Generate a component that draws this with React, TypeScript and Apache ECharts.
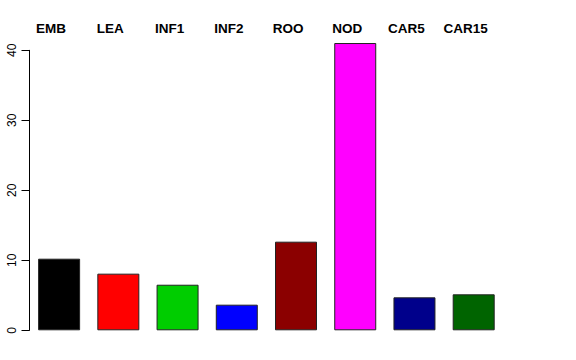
import React, { useEffect, useRef } from "react";
import * as echarts from "echarts";

const categories = ["EMB", "LEA", "INF1", "INF2", "ROO", "NOD", "CAR5", "CAR15"];
const values = [10.23, 8.09, 6.51, 3.66, 12.66, 41.04, 4.71, 5.14];
const colors = ["#000000", "#FF0000", "#00CD00", "#0000FF", "#8B0000", "#FF00FF", "#00008B", "#006400"];
const yTicks = { min: 0, max: 40, interval: 10 };

export default function App() {
  const ref = useRef<HTMLDivElement>(null);
  useEffect(() => {
    if (!ref.current) return;
    const chart = echarts.init(ref.current, null, { renderer: "svg" });
    chart.setOption({
      animation: false,
      backgroundColor: "#ffffff",
      grid: { left: 29.5, right: 72.7, top: 50.3, bottom: 29.7, containLabel: false },
      xAxis: {
        type: "category",
        data: categories,
        position: "top",
        boundaryGap: true,
        axisLine: { show: false },
        axisTick: { show: false },
        splitLine: { show: false },
        axisLabel: {
          interval: 0,
          margin: 15,
          color: "#000",
          fontWeight: "bold",
          fontSize: 13.5,
          fontFamily: "Liberation Sans, Arial, sans-serif",
          padding: [0, 16, 0, 0],
        },
      },
      yAxis: {
        type: "value",
        min: yTicks.min,
        max: yTicks.max,
        interval: yTicks.interval,
        axisLine: { show: true, lineStyle: { color: "#000", width: 1 } },
        axisTick: { show: true, length: 8, lineStyle: { color: "#000", width: 1 } },
        splitLine: { show: false },
        axisLabel: {
          rotate: 90,
          margin: 12,
          color: "#000",
          fontSize: 12,
          fontFamily: "Liberation Sans, Arial, sans-serif",
        },
      },
      series: [
        {
          type: "bar",
          clip: false,
          barWidth: 42,
          data: values.map((v, i) => ({
            value: v,
            itemStyle: { color: colors[i], borderColor: "#222", borderWidth: 1 },
          })),
        },
      ],
    });
    return () => chart.dispose();
  }, []);
  return <div ref={ref} style={{ width: 576, height: 360, position: "absolute", left: 0, top: 0 }} />;
}
